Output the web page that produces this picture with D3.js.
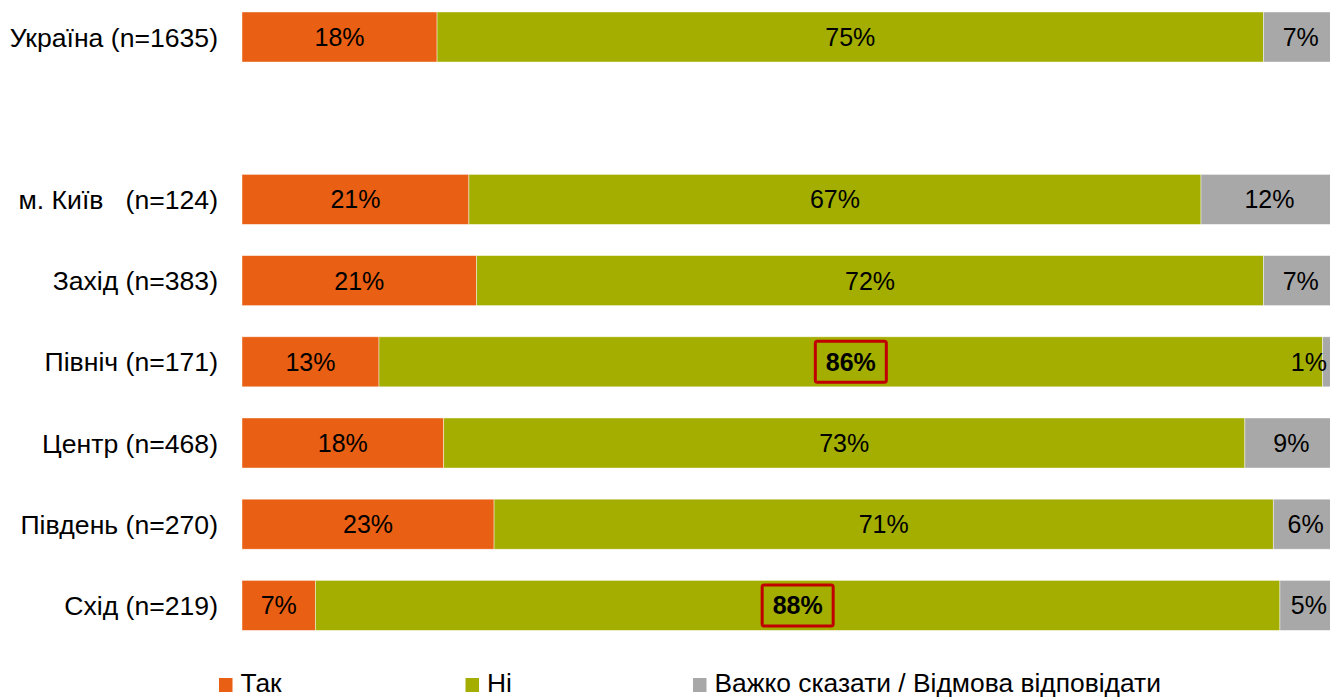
<!DOCTYPE html>
<html>
<head>
<meta charset="utf-8">
<script src="https://cdn.jsdelivr.net/npm/d3@7"></script>
<style>
  html, body { margin: 0; padding: 0; background: #ffffff; overflow: hidden; }
  svg { display: block; font-family: "Liberation Sans", Arial, sans-serif; }
  text { white-space: pre; }
</style>
</head>
<body>
<svg id="chart" width="1330" height="698"></svg>
<script>
// ---- data ----
const categories = ["Україна (n=1635)", "м. Київ   (n=124)", "Захід (n=383)", "Північ (n=171)", "Центр (n=468)", "Південь (n=270)", "Схід (n=219)"];
const seriesNames = ["Так", "Ні", "Важко сказати / Відмова відповідати"];
const yesValues = [17.8, 20.7, 21.4, 12.5, 18.4, 23.0, 6.7];
const noValues  = [75.4, 66.8, 71.8, 86.1, 73.1, 71.1, 88.0];
const dkValues  = [6.8, 12.5, 6.8, 1.4, 8.5, 5.9, 5.3];
const yesLabels = ["18%", "21%", "21%", "13%", "18%", "23%", "7%"];
const noLabels  = ["75%", "67%", "72%", "86%", "73%", "71%", "88%"];
const dkLabels  = ["7%", "12%", "7%", "1%", "9%", "6%", "5%"];
const highlighted = ["Північ (n=171)", "Схід (n=219)"]; // "Ні" values boxed in red

const colors = ["#E95F13", "#A3AE00", "#A8A8A8"];

const svg = d3.select("#chart");
const GAP = "__gap__";
const rowDomain = [categories[0], GAP, ...categories.slice(1)];

const x = d3.scaleLinear().domain([0, 100]).range([242, 1338]);
const y = d3.scaleBand().domain(rowDomain).range([-3.6, 646]).paddingInner(0.384).paddingOuter(0.192);

const seriesValues = [yesValues, noValues, dkValues];
const seriesLabels = [yesLabels, noLabels, dkLabels];

const rows = categories.map((c, i) => {
  let acc = 0;
  const segs = seriesValues.map((vals, s) => {
    const seg = { cat: c, s, x0: acc, x1: acc + vals[i], label: seriesLabels[s][i] };
    acc += vals[i];
    return seg;
  });
  return { cat: c, segs };
});

// bars
const rowG = svg.append("g").selectAll("g").data(rows).join("g");
rowG.selectAll("rect").data(d => d.segs).join("rect")
  .attr("x", d => x(d.x0))
  .attr("y", d => y(d.cat))
  .attr("width", d => x(d.x1) - x(d.x0))
  .attr("height", y.bandwidth())
  .attr("fill", d => colors[d.s])
  .attr("stroke", "#ffffff")
  .attr("stroke-opacity", 0.55)
  .attr("stroke-width", 0.8);

// value labels
const rightLimit = 1327;
rowG.selectAll("text.val").data(d => d.segs).join("text")
  .attr("class", "val")
  .attr("y", d => y(d.cat) + y.bandwidth() / 2)
  .attr("dy", "0.36em")
  .attr("text-anchor", "middle")
  .attr("font-size", 25)
  .attr("font-weight", d => (d.s === 1 && highlighted.includes(d.cat)) ? "bold" : "normal")
  .attr("fill", "#000")
  .text(d => d.label)
  .each(function(d) {
    const w = this.getComputedTextLength();
    let cx = (x(d.x0) + x(d.x1)) / 2;
    if (cx + w / 2 > rightLimit) cx = rightLimit - w / 2;
    d3.select(this).attr("x", cx);
    if (d.s === 1 && highlighted.includes(d.cat)) {
      d3.select(this.parentNode).append("rect")
        .attr("x", cx - 35.5)
        .attr("y", y(d.cat) + y.bandwidth() / 2 - 20.5)
        .attr("width", 71)
        .attr("height", 41)
        .attr("rx", 2)
        .attr("fill", "none")
        .attr("stroke", "#C00000")
        .attr("stroke-width", 3);
    }
  });

// category axis
const axis = d3.axisLeft(y).tickSize(0).tickPadding(0).tickFormat(d => d === GAP ? "" : d);
const axG = svg.append("g").attr("transform", "translate(218,0)").call(axis);
axG.select(".domain").remove();
axG.selectAll("text")
  .attr("font-size", 26.6)
  .attr("font-family", "'Liberation Sans', Arial, sans-serif")
  .attr("fill", "#000")
  .attr("dy", "0.36em");

// legend
const legendX = [219, 465.5, 693];
const lg = svg.append("g").selectAll("g").data(seriesNames).join("g")
  .attr("transform", (d, i) => `translate(${legendX[i]},0)`);
lg.append("rect")
  .attr("x", 0).attr("y", 678).attr("width", 13.5).attr("height", 14)
  .attr("fill", (d, i) => colors[i]);
lg.append("text")
  .attr("x", 21.5).attr("y", 692)
  .attr("font-size", 26.4)
  .attr("fill", "#000")
  .text(d => d);
</script>
</body>
</html>
